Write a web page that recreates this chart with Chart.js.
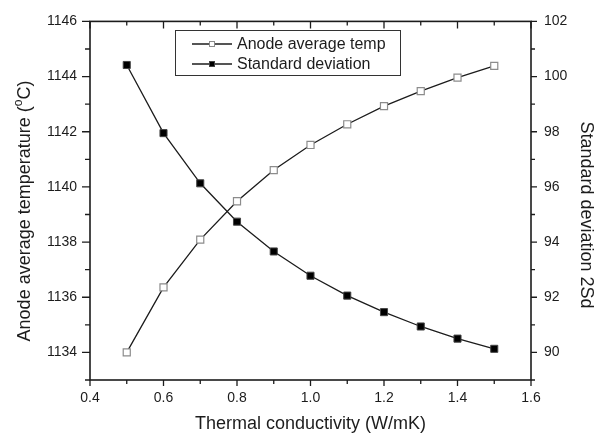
<!DOCTYPE html>
<html lang="en">
<head>
  <meta charset="utf-8">
  <title>Anode temperature vs thermal conductivity</title>
  <script src="https://cdn.jsdelivr.net/npm/chart.js@4.4.1/dist/chart.umd.min.js"></script>
  <style>
    body {
      padding: 0;
      margin: 0;
      background: #fff;
    }
  </style>
</head>
<body>
  <canvas id="chart" width="608" height="438"></canvas>
  <script>
    // values
    const conductivity = [0.5, 0.6, 0.7, 0.8, 0.9, 1.0, 1.1, 1.2, 1.3, 1.4, 1.5];
    const anodeTemp = [1134.0, 1136.36, 1138.09, 1139.48, 1140.61, 1141.52, 1142.27, 1142.93, 1143.47, 1143.96, 1144.39];
    const stdDev = [100.42, 97.95, 96.13, 94.74, 93.66, 92.78, 92.06, 91.46, 90.94, 90.5, 90.13];
    const seriesNames = ['Anode average temp', 'Standard deviation'];
    const xTitle = 'Thermal conductivity (W/mK)';
    const yTitle = ['Anode average temperature (', 'o', 'C)'];
    const y1Title = 'Standard deviation 2Sd';

    const ink = '#1c1c1c';
    const tickFont = { family: 'Arial, "Liberation Sans", sans-serif', size: 14 };

    // frame, tick marks, axis titles and the boxed legend
    const frame = {
      id: 'frame',
      afterDraw(chart) {
        const ctx = chart.ctx;
        const a = chart.chartArea;
        ctx.save();
        ctx.strokeStyle = ink;
        ctx.lineWidth = 1.6;
        ctx.strokeRect(a.left, a.top, a.right - a.left, a.bottom - a.top);

        ctx.lineWidth = 1.3;
        const x = chart.scales.x, y = chart.scales.y, y1 = chart.scales.y1;
        ctx.beginPath();
        x.ticks.forEach(t => {
          const px = x.getPixelForValue(t.value);
          const major = Math.round(t.value * 10) % 2 === 0;
          ctx.moveTo(px, a.bottom); ctx.lineTo(px, a.bottom + (major ? 6 : 4));
          ctx.moveTo(px, a.top); ctx.lineTo(px, a.top + (major ? 7 : 4));
        });
        y.ticks.forEach(t => {
          const py = y.getPixelForValue(t.value);
          const major = Math.round(t.value) % 2 === 0;
          ctx.moveTo(a.left, py); ctx.lineTo(a.left - (major ? 8 : 5), py);
        });
        y1.ticks.forEach(t => {
          const py = y1.getPixelForValue(t.value);
          const major = Math.round(t.value) % 2 === 0;
          ctx.moveTo(a.right, py); ctx.lineTo(a.right + (major ? 6 : 4), py);
        });
        ctx.stroke();

        // axis titles
        ctx.fillStyle = ink;
        ctx.textBaseline = 'middle';
        ctx.textAlign = 'center';
        ctx.font = '18px Arial, "Liberation Sans", sans-serif';
        ctx.fillText(xTitle, (a.left + a.right) / 2, 424);

        ctx.save();
        ctx.translate(586, 215);
        ctx.rotate(Math.PI / 2);
        ctx.fillText(y1Title, 0, 0);
        ctx.restore();

        ctx.save();
        ctx.translate(25, 211);
        ctx.rotate(-Math.PI / 2);
        ctx.textAlign = 'left';
        const big = '18px Arial, "Liberation Sans", sans-serif';
        const small = '12px Arial, "Liberation Sans", sans-serif';
        ctx.font = big;
        const w0 = ctx.measureText(yTitle[0]).width;
        const w2 = ctx.measureText(yTitle[2]).width;
        ctx.font = small;
        const w1 = ctx.measureText(yTitle[1]).width;
        let sx = -(w0 + w1 + w2) / 2;
        ctx.font = big;
        ctx.fillText(yTitle[0], sx, 0);
        ctx.font = small;
        ctx.fillText(yTitle[1], sx + w0, -6);
        ctx.font = big;
        ctx.fillText(yTitle[2], sx + w0 + w1, 0);
        ctx.restore();

        // legend
        const lx = 175, ly = 30, lw = 225, lh = 45;
        ctx.fillStyle = '#fff';
        ctx.fillRect(lx, ly, lw, lh);
        ctx.lineWidth = 1;
        ctx.strokeStyle = '#333';
        ctx.strokeRect(lx + 0.5, ly + 0.5, lw, lh);
        ctx.font = '16px Arial, "Liberation Sans", sans-serif';
        ctx.textAlign = 'left';
        chart.data.datasets.forEach((ds, i) => {
          const rowY = 44 + i * 20;
          ctx.strokeStyle = ds.borderColor;
          ctx.lineWidth = ds.borderWidth;
          ctx.beginPath();
          ctx.moveTo(192, rowY); ctx.lineTo(232, rowY);
          ctx.stroke();
          ctx.fillStyle = ds.pointBackgroundColor;
          ctx.strokeStyle = ds.pointBorderColor;
          ctx.lineWidth = 1;
          ctx.fillRect(209, rowY - 3, 6, 6);
          ctx.strokeRect(209.5, rowY - 2.5, 5, 5);
          ctx.fillStyle = ink;
          ctx.fillText(ds.label, 237, rowY + 1);
        });
        ctx.restore();
      }
    };

    new Chart(document.getElementById('chart'), {
      type: 'line',
      data: {
        labels: conductivity,
        datasets: [{
          label: seriesNames[0],
          data: conductivity.map((c, i) => ({ x: c, y: anodeTemp[i] })),
          yAxisID: 'y',
          borderColor: '#1c1c1c',
          borderWidth: 1.3,
          pointStyle: 'rect',
          pointRadius: 5,
          pointBackgroundColor: '#ffffff',
          pointBorderColor: '#8c8c8c',
          pointBorderWidth: 1.2,
          tension: 0
        }, {
          label: seriesNames[1],
          data: conductivity.map((c, i) => ({ x: c, y: stdDev[i] })),
          yAxisID: 'y1',
          borderColor: '#1c1c1c',
          borderWidth: 1.3,
          pointStyle: 'rect',
          pointRadius: 5,
          pointBackgroundColor: '#000000',
          pointBorderColor: '#444444',
          pointBorderWidth: 1,
          tension: 0
        }]
      },
      options: {
        responsive: false,
        animation: false,
        layout: { padding: { top: 16 } },
        plugins: { legend: { display: false }, tooltip: { enabled: false } },
        scales: {
          x: {
            type: 'linear',
            min: 0.4,
            max: 1.6,
            grid: { display: false, drawTicks: false },
            border: { display: false },
            ticks: {
              stepSize: 0.1,
              autoSkip: false,
              maxRotation: 0,
              padding: 10,
              color: ink,
              font: tickFont,
              callback: v => {
                const t = Math.round(v * 10);
                return t % 2 === 0 ? (t / 10).toFixed(1) : '';
              }
            },
            afterFit: s => { s.height = 58; }
          },
          y: {
            position: 'left',
            min: 1133,
            max: 1146,
            grid: { display: false, drawTicks: false },
            border: { display: false },
            ticks: {
              stepSize: 1,
              autoSkip: false,
              padding: 13,
              color: ink,
              font: tickFont,
              callback: v => (Math.round(v) % 2 === 0 ? String(v) : '')
            },
            afterFit: s => { s.width = 90; }
          },
          y1: {
            position: 'right',
            min: 89,
            max: 102,
            grid: { display: false, drawTicks: false },
            border: { display: false },
            ticks: {
              stepSize: 1,
              autoSkip: false,
              padding: 13,
              color: ink,
              font: tickFont,
              callback: v => (Math.round(v) % 2 === 0 ? String(v) : '')
            },
            afterFit: s => { s.width = 77; }
          }
        }
      },
      plugins: [frame]
    });
  </script>
</body>
</html>
